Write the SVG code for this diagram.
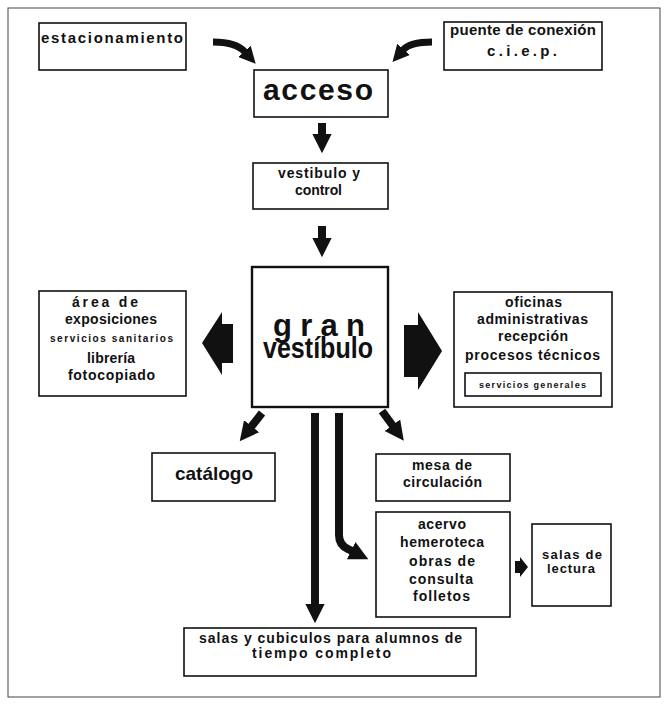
<svg xmlns="http://www.w3.org/2000/svg" width="670" height="706" viewBox="0 0 670 706">
<style>
.frame{fill:none;stroke:#444;stroke-width:1}
.box{fill:#fff;stroke:#111;stroke-width:1.6}
.big{fill:#fff;stroke:#111;stroke-width:2.4}
.t{font-family:"Liberation Sans Narrow","Liberation Sans","DejaVu Sans",sans-serif;font-weight:bold;fill:#111}
.s13{font-size:13px}
.s14{font-size:14px}
.s15{font-size:15px}
.s10{font-size:10px}
.s9{font-size:9px}
.ln{fill:none;stroke:#111;stroke-width:8;marker-end:url(#ah)}
.cv{fill:none;stroke:#111;stroke-width:7;marker-end:url(#ah)}
.blk{fill:#111}
</style>
<defs>
<marker id="ah" viewBox="0 0 10 10" refX="0.5" refY="5" markerWidth="2.4" markerHeight="2.8" orient="auto" markerUnits="strokeWidth">
<path d="M0,0 L10,5 L0,10 z" fill="#111"/>
</marker>
</defs>
<rect width="670" height="706" fill="#fff"/>
<rect class="frame" x="8" y="8" width="652" height="689"/>

<g id="connectors">
<path class="cv" d="M213,42 Q236,42 245,52"/>
<path class="cv" d="M432,42 Q410,42 403,50"/>
<path class="ln" d="M322,123 V135"/>
<path class="ln" d="M322,226 V239"/>
<polygon class="blk" points="202,343 222,312 222,324 233,324 233,363 222,363 222,375"/>
<polygon class="blk" points="404,325 418,325 418,312 442,351 418,390 418,377 404,377"/>
<path class="ln" d="M262,413 L251,427"/>
<path class="ln" d="M382,411 L393,426"/>
<path class="ln" d="M315,413 V605"/>
<path class="ln" d="M339,413 V535 Q339,545 348,549 L352,551"/>
<polygon class="blk" points="515,561 520,561 520,557 528,567 520,577 520,573 515,573"/>
</g>

<g id="estacionamiento">
<rect class="box" x="39" y="23" width="147" height="47"/>
<text class="t s15" x="41" y="43" textLength="142">estacionamiento</text>
</g>
<g id="puente">
<rect class="box" x="444" y="22" width="158" height="48"/>
<text class="t s15" x="450" y="35" textLength="146">puente de conexión</text>
<text class="t s15" x="487" y="56" textLength="70">c.i.e.p.</text>
</g>
<g id="acceso">
<rect class="box" x="254" y="70" width="134" height="47"/>
<text class="t" style="font-size:30px" x="263" y="100" textLength="110">acceso</text>
</g>
<g id="vestibulo-control">
<rect class="box" x="253" y="163" width="135" height="46"/>
<text class="t s14" x="278" y="178" textLength="82">vestibulo y</text>
<text class="t s14" x="295" y="195" textLength="47">control</text>
</g>
<g id="gran-vestibulo">
<rect class="big" x="252" y="267" width="136" height="140"/>
<text class="t" style="font-size:31px" x="273" y="336" textLength="92">gran</text>
<text class="t" style="font-size:30px" x="263" y="358" textLength="110" lengthAdjust="spacingAndGlyphs">vestíbulo</text>
</g>
<g id="exposiciones">
<rect class="box" x="39" y="291" width="147" height="105"/>
<text class="t s14" x="72" y="307" textLength="66">área de</text>
<text class="t s14" x="65" y="324" textLength="92">exposiciones</text>
<text class="t s10" x="50" y="342" textLength="123">servicios sanitarios</text>
<text class="t s14" x="87" y="363" textLength="48">librería</text>
<text class="t s14" x="68" y="380" textLength="87">fotocopiado</text>
</g>
<g id="oficinas">
<rect class="box" x="454" y="292" width="158" height="115"/>
<text class="t s14" x="505" y="307" textLength="57">oficinas</text>
<text class="t s14" x="477" y="324" textLength="111">administrativas</text>
<text class="t s14" x="498" y="341" textLength="70">recepción</text>
<text class="t s14" x="465" y="360" textLength="135">procesos técnicos</text>
<g id="servicios-generales">
<rect class="box" x="465" y="373" width="136" height="23"/>
<text class="t s9" x="479" y="388" textLength="107">servicios generales</text>
</g>
</g>
<g id="catalogo">
<rect class="box" x="152" y="453" width="123" height="48"/>
<text class="t" style="font-size:19px" x="175" y="480" textLength="78">catálogo</text>
</g>
<g id="mesa">
<rect class="box" x="376" y="454" width="134" height="47"/>
<text class="t s14" x="412" y="470" textLength="60">mesa de</text>
<text class="t s14" x="403" y="487" textLength="79">circulación</text>
</g>
<g id="acervo">
<rect class="box" x="376" y="512" width="134" height="105"/>
<text class="t s14" x="418" y="529" textLength="48">acervo</text>
<text class="t s14" x="400" y="547" textLength="84">hemeroteca</text>
<text class="t s14" x="409" y="566" textLength="66">obras de</text>
<text class="t s14" x="409" y="584" textLength="64">consulta</text>
<text class="t s14" x="413" y="601" textLength="57">folletos</text>
</g>
<g id="salas-lectura">
<rect class="box" x="532" y="524" width="79" height="82"/>
<text class="t s13" x="542" y="559" textLength="60">salas de</text>
<text class="t s13" x="547" y="573" textLength="48">lectura</text>
</g>
<g id="salas-cubiculos">
<rect class="box" x="184" y="628" width="292" height="48"/>
<text class="t s14" x="199" y="643" textLength="263">salas y cubiculos para alumnos de</text>
<text class="t s14" x="252" y="658" textLength="139">tiempo completo</text>
</g>
</svg>
